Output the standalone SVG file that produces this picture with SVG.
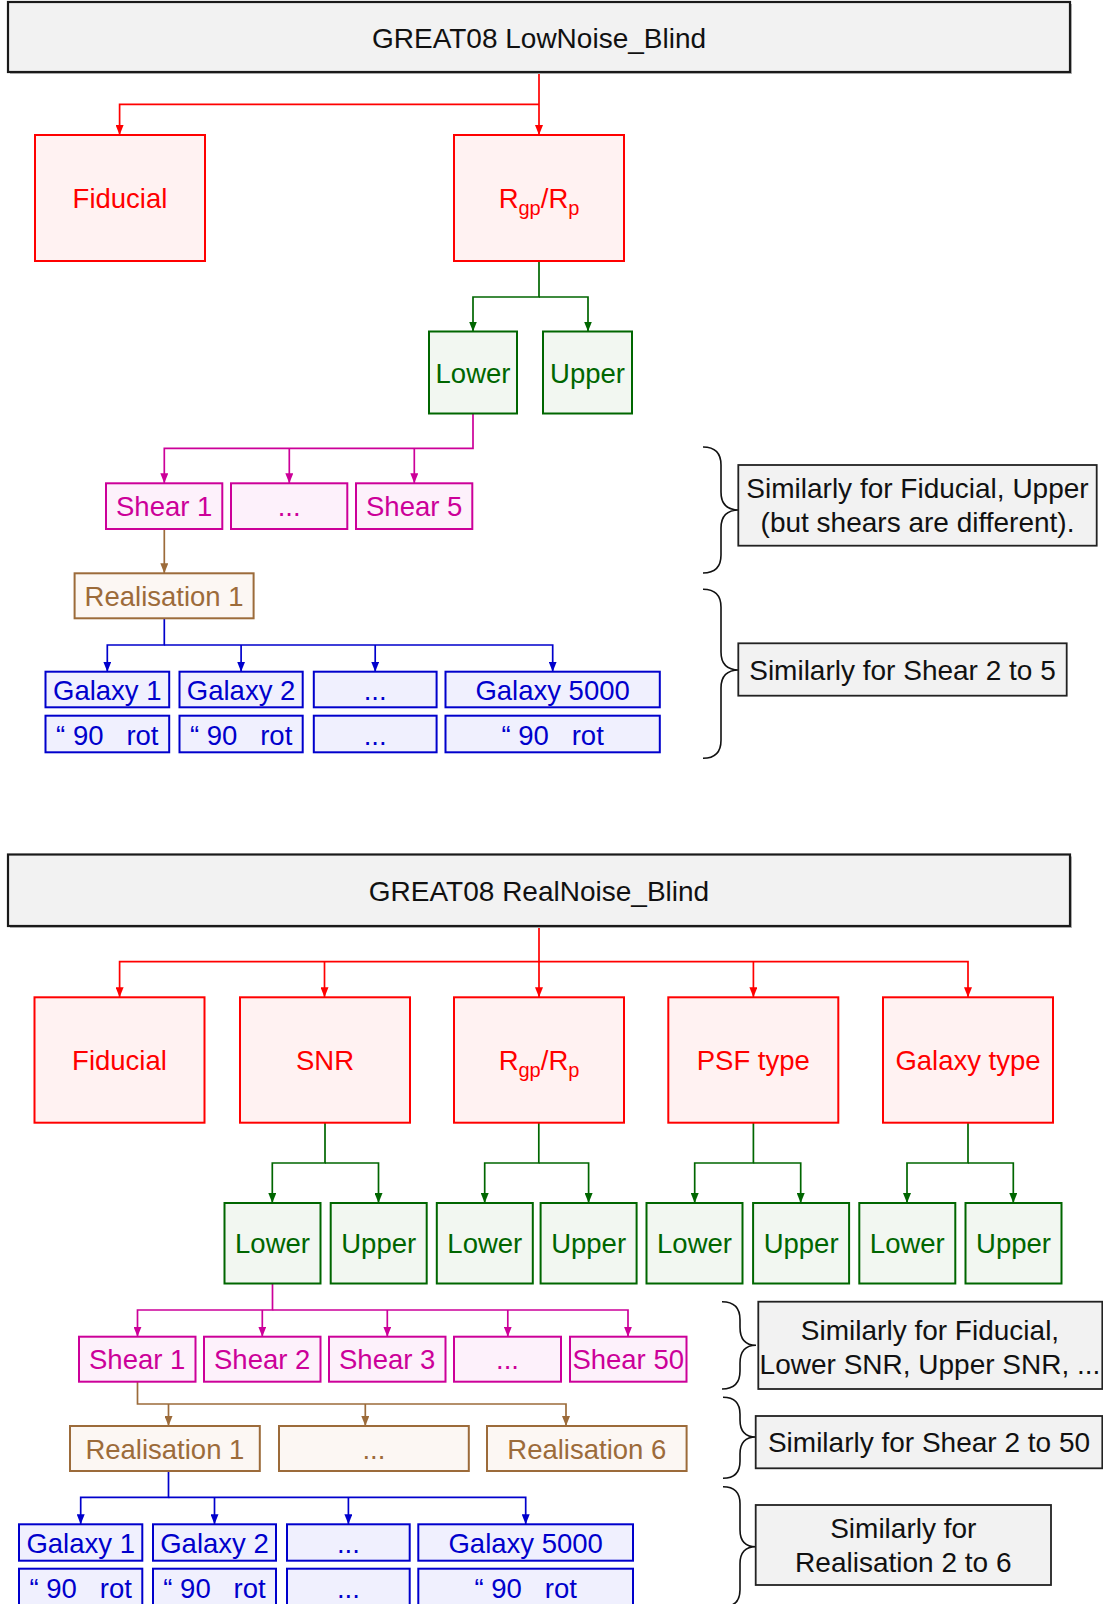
<svg xmlns="http://www.w3.org/2000/svg" width="1103" height="1604" viewBox="0 0 1103 1604">
<style>
text{font-family:"Liberation Sans",Arial,Helvetica,sans-serif;font-size:27.5px;text-anchor:middle}
.big{font-size:28px;fill:#111}
.title rect.b{fill:#f2f2f2;stroke:#1a1a1a;stroke-width:2.2}
.title rect.s{fill:#b8b8b8;stroke:none}
.note rect{fill:#f2f2f2;stroke:#222;stroke-width:1.8}
.note path{fill:none;stroke:#111;stroke-width:1.6}
.r rect{fill:#fff2f2;stroke:#ff0000;stroke-width:2}
.r text{fill:#ff0000}
.g rect{fill:#f2f7f1;stroke:#006600;stroke-width:2}
.g text{fill:#006600}
.m rect{fill:#fdf1fb;stroke:#cc0099;stroke-width:2}
.m text{fill:#cc0099}
.br rect{fill:#fcf7f3;stroke:#9c6b3a;stroke-width:2}
.br text{fill:#9c6b3a}
.bl rect{fill:#f0f0fe;stroke:#0000cc;stroke-width:2}
.bl text{fill:#0000cc}
.c path{fill:none;stroke-width:1.7}
.cr path{stroke:#ff0000;marker-end:url(#ar)}
.cg path{stroke:#006600;marker-end:url(#ag)}
.cm path{stroke:#cc0099;marker-end:url(#am)}
.cb path{stroke:#9c6b3a;marker-end:url(#ab)}
.cl path{stroke:#0000cc;marker-end:url(#al)}
</style>
<defs>
<marker id="ar" markerUnits="userSpaceOnUse" markerWidth="10" markerHeight="8" viewBox="0 0 10 8" refX="10" refY="4" orient="auto"><path d="M0,0 L10,4 L0,8 z" fill="#ff0000"/></marker>
<marker id="ag" markerUnits="userSpaceOnUse" markerWidth="10" markerHeight="8" viewBox="0 0 10 8" refX="10" refY="4" orient="auto"><path d="M0,0 L10,4 L0,8 z" fill="#006600"/></marker>
<marker id="am" markerUnits="userSpaceOnUse" markerWidth="10" markerHeight="8" viewBox="0 0 10 8" refX="10" refY="4" orient="auto"><path d="M0,0 L10,4 L0,8 z" fill="#cc0099"/></marker>
<marker id="ab" markerUnits="userSpaceOnUse" markerWidth="10" markerHeight="8" viewBox="0 0 10 8" refX="10" refY="4" orient="auto"><path d="M0,0 L10,4 L0,8 z" fill="#9c6b3a"/></marker>
<marker id="al" markerUnits="userSpaceOnUse" markerWidth="10" markerHeight="8" viewBox="0 0 10 8" refX="10" refY="4" orient="auto"><path d="M0,0 L10,4 L0,8 z" fill="#0000cc"/></marker>
</defs>
<rect width="1103" height="1604" fill="#ffffff"/>

<g id="connectors" class="c">
 <g class="cr">
  <path d="M539,72 V135"/>
  <path d="M539,104.3 H119.6 V135"/>
  <path d="M539,926 V997.3"/>
  <path d="M539,961.7 H119.6 V997.3"/>
  <path d="M539,961.7 H968 V997.3"/>
  <path d="M324.5,961.7 V997.3"/>
  <path d="M753.4,961.7 V997.3"/>
 </g>
 <g class="cg">
  <path d="M539,261 V297 H473 V331.5"/>
  <path d="M539,297 H588 V331.5"/>
  <path d="M325,1122.7 V1163 H272.3 V1203"/>
  <path d="M325,1163 H378.5 V1203"/>
  <path d="M538.8,1122.7 V1163 H484.7 V1203"/>
  <path d="M538.8,1163 H588.6 V1203"/>
  <path d="M753.4,1122.7 V1163 H694.7 V1203"/>
  <path d="M753.4,1163 H800.7 V1203"/>
  <path d="M968,1122.7 V1163 H907 V1203"/>
  <path d="M968,1163 H1013.3 V1203"/>
 </g>
 <g class="cm">
  <path d="M473,413.5 V448.3 H164.3 V483.3"/>
  <path d="M289.3,448.3 V483.3"/>
  <path d="M414.3,448.3 V483.3"/>
  <path d="M272.5,1283.5 V1310 H137.5 V1336.7"/>
  <path d="M272.5,1310 H628 V1336.7"/>
  <path d="M262.3,1310 V1336.7"/>
  <path d="M387.3,1310 V1336.7"/>
  <path d="M507.8,1310 V1336.7"/>
 </g>
 <g class="cb">
  <path d="M164.3,529 V573.3"/>
  <path d="M137.5,1381.7 V1404 H566 V1426"/>
  <path d="M168.5,1404 V1426"/>
  <path d="M365.3,1404 V1426"/>
 </g>
 <g class="cl">
  <path d="M164.3,618.3 V645 H107.3 V671.7"/>
  <path d="M164.3,645 H552.7 V671.7"/>
  <path d="M241.1,645 V671.7"/>
  <path d="M375.2,645 V671.7"/>
  <path d="M168.5,1471 V1497.3 H80.7 V1524.3"/>
  <path d="M168.5,1497.3 H525.7 V1524.3"/>
  <path d="M214.5,1497.3 V1524.3"/>
  <path d="M348.4,1497.3 V1524.3"/>
 </g>
</g>

<!-- Top section -->
<g id="title-lownoise" class="title">
 <rect class="s" x="10" y="4" width="1062" height="70"/>
 <rect class="b" x="8" y="2" width="1062" height="70"/>
 <text class="big" x="539" y="47.5">GREAT08 LowNoise_Blind</text>
</g>
<g id="ln-fiducial" class="r"><rect x="35" y="135" width="170" height="126"/><text x="120" y="208">Fiducial</text></g>
<g id="ln-rgp" class="r"><rect x="454" y="135" width="170" height="126"/><text x="539" y="208">R<tspan font-size="20" dy="7">gp</tspan><tspan dy="-7">/R</tspan><tspan font-size="20" dy="7">p</tspan></text></g>
<g id="ln-lower" class="g"><rect x="429" y="331.5" width="88" height="82"/><text x="473" y="382.5">Lower</text></g>
<g id="ln-upper" class="g"><rect x="543" y="331.5" width="89" height="82"/><text x="587.5" y="382.5">Upper</text></g>
<g id="ln-shear1" class="m"><rect x="106" y="483.3" width="116.3" height="45.7"/><text x="164.2" y="516">Shear 1</text></g>
<g id="ln-shear-dots" class="m"><rect x="231" y="483.3" width="116.3" height="45.7"/><text x="289.2" y="516">...</text></g>
<g id="ln-shear5" class="m"><rect x="356" y="483.3" width="116.3" height="45.7"/><text x="414.2" y="516">Shear 5</text></g>
<g id="ln-real1" class="br"><rect x="74.6" y="573.3" width="179" height="45"/><text x="164.1" y="605.8">Realisation 1</text></g>
<g id="ln-gal1" class="bl"><rect x="45.5" y="671.7" width="123.7" height="35.6"/><text x="107.3" y="699.5">Galaxy 1</text></g>
<g id="ln-gal2" class="bl"><rect x="179.5" y="671.7" width="123.2" height="35.6"/><text x="241.1" y="699.5">Galaxy 2</text></g>
<g id="ln-gal-dots" class="bl"><rect x="313.8" y="671.7" width="122.8" height="35.6"/><text x="375.2" y="699.5">...</text></g>
<g id="ln-gal5000" class="bl"><rect x="445.5" y="671.7" width="214.3" height="35.6"/><text x="552.6" y="699.5">Galaxy 5000</text></g>
<g id="ln-rot1" class="bl"><rect x="45.5" y="715.7" width="123.7" height="36.6"/><text x="107.3" y="744.5">“ 90&#160;&#160; rot</text></g>
<g id="ln-rot2" class="bl"><rect x="179.5" y="715.7" width="123.2" height="36.6"/><text x="241.1" y="744.5">“ 90&#160;&#160; rot</text></g>
<g id="ln-rot-dots" class="bl"><rect x="313.8" y="715.7" width="122.8" height="36.6"/><text x="375.2" y="744.5">...</text></g>
<g id="ln-rot5000" class="bl"><rect x="445.5" y="715.7" width="214.3" height="36.6"/><text x="552.6" y="744.5">“ 90&#160;&#160; rot</text></g>

<g id="ln-note1" class="note">
 <path d="M703,447 Q721,447 721,465 V492 Q721,510 739,510 Q721,510 721,528 V555 Q721,573 703,573"/>
 <rect x="738.3" y="465" width="358.4" height="80.7"/>
 <text class="big" x="917.5" y="498.3">Similarly for Fiducial, Upper</text>
 <text class="big" x="917.5" y="531.7">(but shears are different).</text>
</g>
<g id="ln-note2" class="note">
 <path d="M703,589.3 Q721,589.3 721,607.3 V652 Q721,670 739,670 Q721,670 721,688 V740.3 Q721,758.3 703,758.3"/>
 <rect x="738.3" y="643.3" width="328.4" height="52.4"/>
 <text class="big" x="902.5" y="680">Similarly for Shear 2 to 5</text>
</g>

<!-- Bottom section -->
<g id="title-realnoise" class="title">
 <rect class="s" x="10" y="856.5" width="1062" height="71.5"/>
 <rect class="b" x="8" y="854.5" width="1062" height="71.5"/>
 <text class="big" x="539" y="901">GREAT08 RealNoise_Blind</text>
</g>
<g id="rn-fiducial" class="r"><rect x="34.5" y="997.3" width="170" height="125.4"/><text x="119.5" y="1070">Fiducial</text></g>
<g id="rn-snr" class="r"><rect x="240" y="997.3" width="170" height="125.4"/><text x="325" y="1070">SNR</text></g>
<g id="rn-rgp" class="r"><rect x="454" y="997.3" width="170" height="125.4"/><text x="539" y="1070">R<tspan font-size="20" dy="7">gp</tspan><tspan dy="-7">/R</tspan><tspan font-size="20" dy="7">p</tspan></text></g>
<g id="rn-psf" class="r"><rect x="668.3" y="997.3" width="170" height="125.4"/><text x="753.3" y="1070">PSF type</text></g>
<g id="rn-galtype" class="r"><rect x="883" y="997.3" width="170" height="125.4"/><text x="968" y="1070">Galaxy type</text></g>

<g id="rn-snr-lower" class="g"><rect x="224.5" y="1203" width="96" height="80.5"/><text x="272.5" y="1253">Lower</text></g>
<g id="rn-snr-upper" class="g"><rect x="330.7" y="1203" width="96" height="80.5"/><text x="378.7" y="1253">Upper</text></g>
<g id="rn-rgp-lower" class="g"><rect x="436.8" y="1203" width="96" height="80.5"/><text x="484.8" y="1253">Lower</text></g>
<g id="rn-rgp-upper" class="g"><rect x="540.6" y="1203" width="96" height="80.5"/><text x="588.6" y="1253">Upper</text></g>
<g id="rn-psf-lower" class="g"><rect x="646.5" y="1203" width="96" height="80.5"/><text x="694.5" y="1253">Lower</text></g>
<g id="rn-psf-upper" class="g"><rect x="753.1" y="1203" width="96" height="80.5"/><text x="801.1" y="1253">Upper</text></g>
<g id="rn-gal-lower" class="g"><rect x="859.3" y="1203" width="96" height="80.5"/><text x="907.3" y="1253">Lower</text></g>
<g id="rn-gal-upper" class="g"><rect x="965.5" y="1203" width="96" height="80.5"/><text x="1013.5" y="1253">Upper</text></g>

<g id="rn-shear1" class="m"><rect x="79" y="1336.7" width="116.5" height="45"/><text x="137.2" y="1369">Shear 1</text></g>
<g id="rn-shear2" class="m"><rect x="204" y="1336.7" width="116.5" height="45"/><text x="262.2" y="1369">Shear 2</text></g>
<g id="rn-shear3" class="m"><rect x="329" y="1336.7" width="116.5" height="45"/><text x="387.2" y="1369">Shear 3</text></g>
<g id="rn-shear-dots" class="m"><rect x="454" y="1336.7" width="107" height="45"/><text x="507.5" y="1369">...</text></g>
<g id="rn-shear50" class="m"><rect x="570" y="1336.7" width="116.5" height="45"/><text x="628.2" y="1369">Shear 50</text></g>

<g id="rn-real1" class="br"><rect x="70" y="1426" width="189.8" height="45"/><text x="164.9" y="1458.5">Realisation 1</text></g>
<g id="rn-real-dots" class="br"><rect x="279" y="1426" width="189.8" height="45"/><text x="373.9" y="1458.5">...</text></g>
<g id="rn-real6" class="br"><rect x="487" y="1426" width="199.6" height="45"/><text x="586.8" y="1458.5">Realisation 6</text></g>

<g id="rn-gal1" class="bl"><rect x="19" y="1524.3" width="123.3" height="36.4"/><text x="80.7" y="1553">Galaxy 1</text></g>
<g id="rn-gal2" class="bl"><rect x="153" y="1524.3" width="123" height="36.4"/><text x="214.5" y="1553">Galaxy 2</text></g>
<g id="rn-gal-dots" class="bl"><rect x="287" y="1524.3" width="122.7" height="36.4"/><text x="348.4" y="1553">...</text></g>
<g id="rn-gal5000" class="bl"><rect x="418.3" y="1524.3" width="214.7" height="36.4"/><text x="525.7" y="1553">Galaxy 5000</text></g>
<g id="rn-rot1" class="bl"><rect x="19" y="1568.7" width="123.3" height="38"/><text x="80.7" y="1597.7">“ 90&#160;&#160; rot</text></g>
<g id="rn-rot2" class="bl"><rect x="153" y="1568.7" width="123" height="38"/><text x="214.5" y="1597.7">“ 90&#160;&#160; rot</text></g>
<g id="rn-rot-dots" class="bl"><rect x="287" y="1568.7" width="122.7" height="38"/><text x="348.4" y="1597.7">...</text></g>
<g id="rn-rot5000" class="bl"><rect x="418.3" y="1568.7" width="214.7" height="38"/><text x="525.7" y="1597.7">“ 90&#160;&#160; rot</text></g>

<g id="rn-note1" class="note">
 <path d="M722,1301.7 Q740,1301.7 740,1319.7 V1327.3 Q740,1345.3 756,1345.3 Q740,1345.3 740,1363.3 V1371 Q740,1389 722,1389"/>
 <rect x="758.3" y="1301.7" width="344" height="87.3"/>
 <text class="big" x="930" y="1340">Similarly for Fiducial,</text>
 <text class="big" x="930" y="1374">Lower SNR, Upper SNR, ...</text>
</g>
<g id="rn-note2" class="note">
 <path d="M723,1397.3 Q740,1397.3 740,1414.3 V1420 Q740,1437 756,1437 Q740,1437 740,1454 V1461.3 Q740,1478.3 723,1478.3"/>
 <rect x="755.7" y="1416" width="346.6" height="52.3"/>
 <text class="big" x="929" y="1452">Similarly for Shear 2 to 50</text>
</g>
<g id="rn-note3" class="note">
 <path d="M723,1486.7 Q740,1486.7 740,1503.7 V1529.7 Q740,1546.7 756,1546.7 Q740,1546.7 740,1563.7 V1589.7 Q740,1606.7 723,1606.7"/>
 <rect x="755.7" y="1505" width="295.3" height="80"/>
 <text class="big" x="903.3" y="1537.5">Similarly for</text>
 <text class="big" x="903.3" y="1572">Realisation 2 to 6</text>
</g>
</svg>
